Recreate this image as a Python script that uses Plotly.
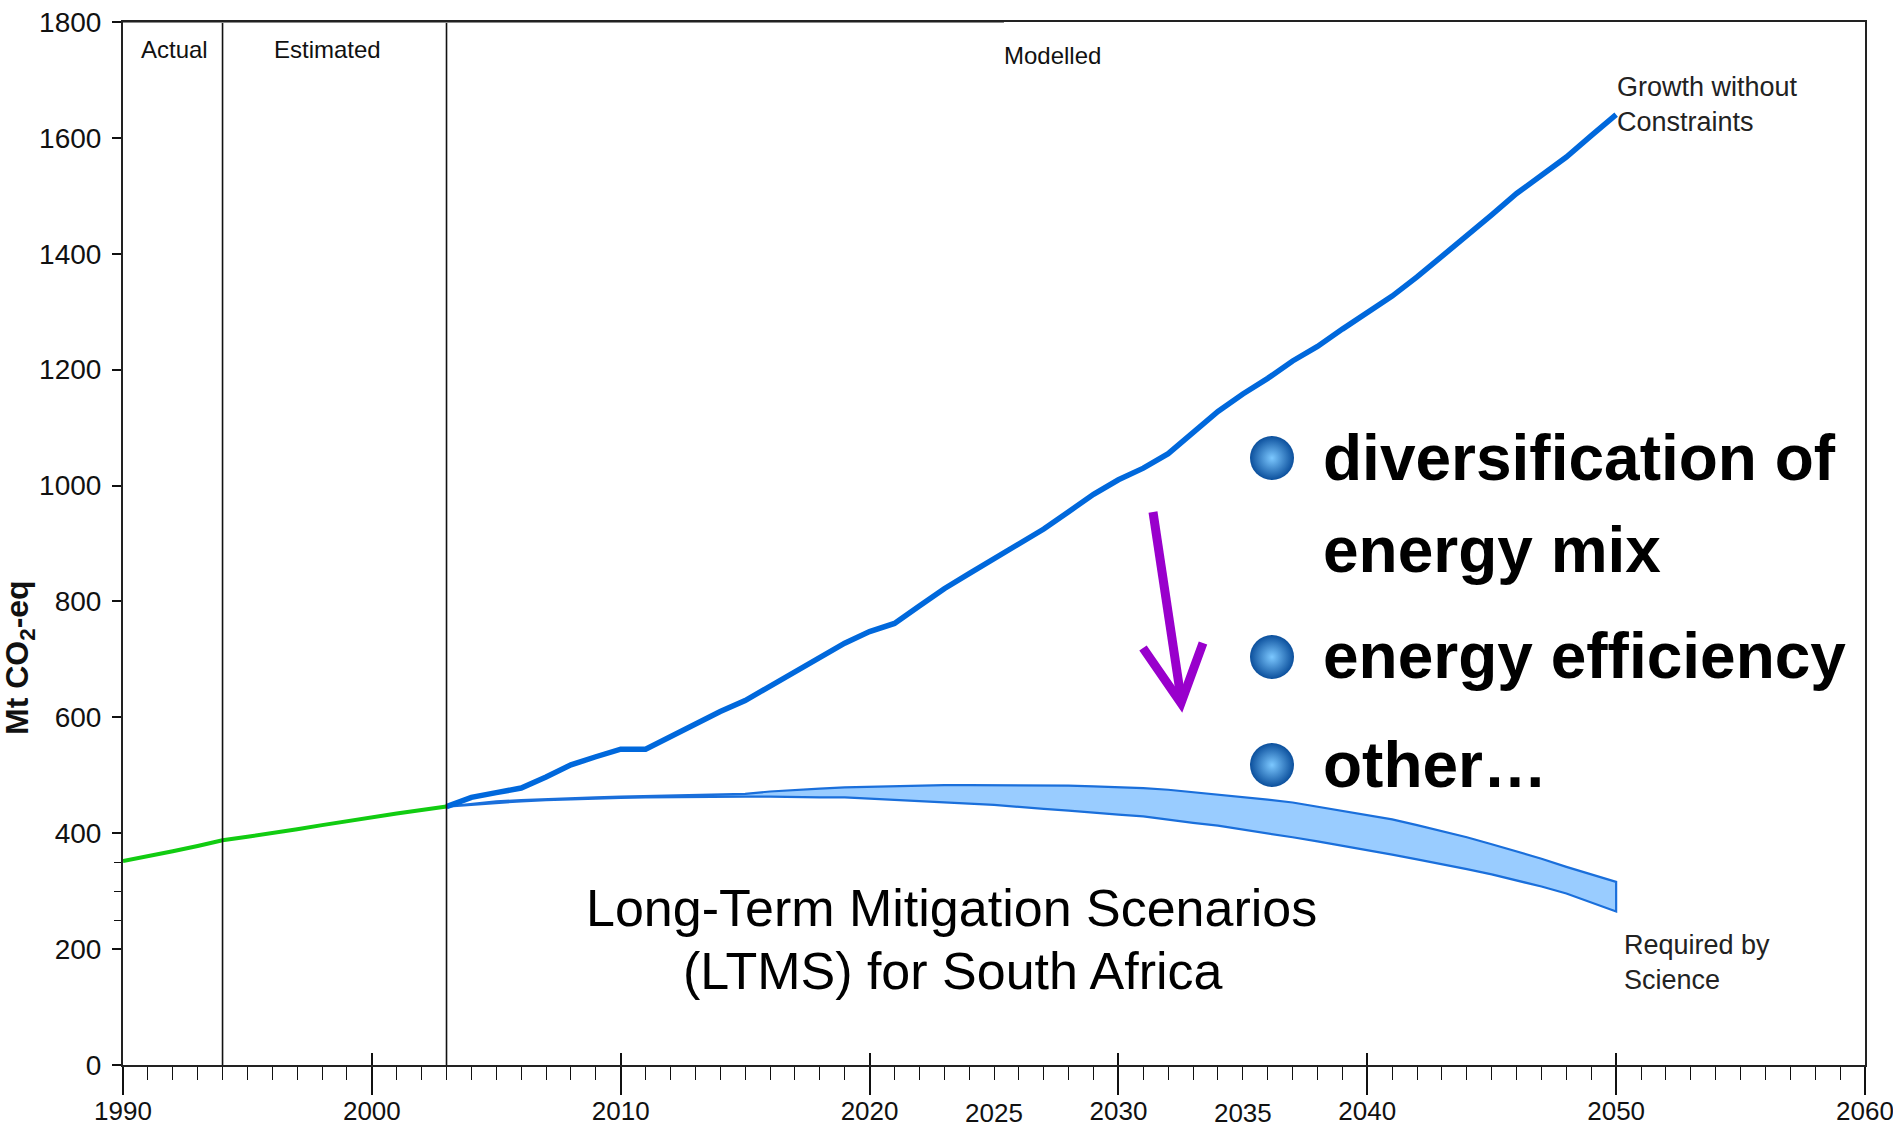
import plotly.graph_objects as go

# ---------------- data ----------------
actual_years = list(range(1990, 2004))
actual_values = [352, 360, 369, 378, 388, 394, 400, 407, 414, 421, 428, 434, 440, 446]

model_years = list(range(2003, 2051))
growth_values = [446, 462, 470, 478, 497, 518, 532, 545, 545, 567, 590, 610, 629, 654,
                 679, 703, 728, 748, 762, 792, 822, 848, 873, 898, 925, 955, 985, 1010,
                 1030, 1055, 1090, 1128, 1158, 1185, 1215, 1240, 1270, 1298, 1327, 1360,
                 1395, 1430, 1467, 1504, 1535, 1567, 1604, 1640]
science_upper = [446, 450, 455, 457, 459, 461, 462, 463, 464, 465, 466, 467, 468, 472,
                 475, 477, 479, 480, 482, 483, 483, 483, 483, 483, 482, 482, 481, 480,
                 478, 475, 471, 467, 463, 458, 453, 446, 439, 432, 424, 414, 404, 393,
                 381, 369, 356, 342, 329, 316]
science_lower = [446, 450, 452, 455, 457, 459, 460, 461, 462, 462, 463, 463, 463, 463,
                 463, 462, 462, 460, 458, 455, 453, 451, 449, 446, 442, 439, 436, 432,
                 429, 424, 418, 413, 406, 400, 393, 386, 378, 371, 363, 355, 347, 338,
                 329, 319, 308, 296, 281, 265]

period_bounds = [1994, 2003]
period_labels = ["Actual", "Estimated", "Modelled"]
period_label_x = [1992.05, 1998.2, 2027.35]

x_major = [1990, 2000, 2010, 2020, 2030, 2040, 2050, 2060]
x_half = [2025, 2035]
y_ticks = list(range(0, 1801, 200))
y_minor = [250, 300, 350]

bullet_texts = ["diversification of", "energy mix", "energy efficiency", "other\u2026"]

# ---------------- geometry helpers (figure pixels -> paper) ----------------
W, H = 1893, 1131
ML, MR, MT, MB = 123, 28, 22, 66
PW, PH = W - ML - MR, H - MT - MB


def pxx(x):
    return (x - ML) / PW


def pxy(y):
    return (H - MB - y) / PH


def d(x, y):
    return 1990 + (x - ML) / PW * 70, (H - MB - y) / PH * 1800


SMALL = "Liberation Sans, Arial, sans-serif"
ARIAL = "Liberation Sans, Arial, sans-serif"

fig = go.Figure()

# Required-by-science band (closed polygon)
fig.add_trace(go.Scatter(
    x=model_years + model_years[::-1],
    y=science_upper + science_lower[::-1],
    mode="lines", fill="toself", fillcolor="#99CCFF",
    line=dict(color="#1A6FDB", width=2.2),
    showlegend=False, hoverinfo="skip"))

# Growth without constraints
fig.add_trace(go.Scatter(
    x=model_years, y=growth_values, mode="lines",
    line=dict(color="#0068DC", width=5.5),
    showlegend=False))

# Actual / estimated
fig.add_trace(go.Scatter(
    x=actual_years, y=actual_values, mode="lines",
    line=dict(color="#11CC11", width=4),
    showlegend=False))

# dummy traces for overlay axes
fig.add_trace(go.Scatter(x=[None], y=[None], xaxis="x2", yaxis="y", showlegend=False, hoverinfo="skip"))
fig.add_trace(go.Scatter(x=[None], y=[None], xaxis="x3", yaxis="y", showlegend=False, hoverinfo="skip"))

# bullets (spheres)
bullet_px_y = [458, 657, 765]
bx = [d(1272, yy)[0] for yy in bullet_px_y]
by = [d(1272, yy)[1] for yy in bullet_px_y]
fig.add_trace(go.Scatter(
    x=bx, y=by, mode="markers",
    marker=dict(size=44, color="#0B4F9C",
                gradient=dict(type="radial", color="#7CC8FF"),
                line=dict(width=0)),
    showlegend=False, hoverinfo="skip", cliponaxis=False))

# ---------------- shapes ----------------
shapes = []
for b in period_bounds:
    shapes.append(dict(type="line", xref="x", yref="y", x0=b, x1=b, y0=0, y1=1800,
                       line=dict(color="#111111", width=1.6), layer="above"))
# lighter left part of the top frame
shapes.append(dict(type="line", xref="x", yref="y", x0=1990, x1=2025.4, y0=1800, y1=1800,
                   line=dict(color="#8A8A8A", width=2.2), layer="above"))

# purple arrow
sx0, sy0 = d(1153, 512)
tx, ty = d(1181, 703)
lx, ly = d(1143, 648)
rx, ry = d(1203, 643)
shapes.append(dict(type="line", xref="x", yref="y", x0=sx0, y0=sy0, x1=tx, y1=ty + 8,
                   line=dict(color="#9900CC", width=9)))
shapes.append(dict(type="path", xref="x", yref="y",
                   path=f"M {lx},{ly} L {tx},{ty} L {rx},{ry}",
                   line=dict(color="#9900CC", width=9)))

# ---------------- annotations ----------------
ann = []
for lab, lx_ in zip(period_labels, period_label_x):
    ann.append(dict(text=lab, x=lx_, y=1752 if lab != "Modelled" else 1743, xref="x", yref="y",
                    showarrow=False, xanchor="center", yanchor="middle",
                    font=dict(family=SMALL, size=24, color="#111111")))

ann.append(dict(text="Growth without<br>Constraints", x=pxx(1615), y=pxy(105), xref="paper", yref="paper",
                showarrow=False, xanchor="left", yanchor="middle", align="left",
                font=dict(family=SMALL, size=27, color="#222222")))
ann.append(dict(text="Required by<br>Science", x=pxx(1622), y=pxy(962), xref="paper", yref="paper",
                showarrow=False, xanchor="left", yanchor="middle", align="left",
                font=dict(family=SMALL, size=27, color="#222222")))

ann.append(dict(text="Long-Term Mitigation Scenarios", x=pxx(951), y=pxy(908), xref="paper", yref="paper",
                showarrow=False, xanchor="center", yanchor="middle",
                font=dict(family=ARIAL, size=52, color="#000000")))
ann.append(dict(text="(LTMS) for South Africa", x=pxx(953), y=pxy(971), xref="paper", yref="paper",
                showarrow=False, xanchor="center", yanchor="middle",
                font=dict(family=ARIAL, size=52, color="#000000")))

for t, yy in zip(bullet_texts, [458, 550, 656, 765]):
    ann.append(dict(text=f"<b>{t}</b>", x=pxx(1321), y=pxy(yy), xref="paper", yref="paper",
                    showarrow=False, xanchor="left", yanchor="middle",
                    font=dict(family=ARIAL, size=64, color="#000000")))

ann.append(dict(text="<b>Mt CO<sub>2</sub>-eq</b>", x=pxx(19), y=pxy(658), xref="paper", yref="paper",
                showarrow=False, xanchor="center", yanchor="middle", textangle=-90,
                font=dict(family=ARIAL, size=32, color="#111111")))

fig.update_layout(
    width=W, height=H,
    margin=dict(l=ML, r=MR, t=MT, b=MB, autoexpand=False),
    paper_bgcolor="white", plot_bgcolor="white",
    shapes=shapes, annotations=ann,
    xaxis=dict(range=[1990, 2060], showgrid=False, zeroline=False, automargin=False,
               showline=True, linecolor="#222222", linewidth=2, mirror=True,
               ticks="outside", tickvals=x_major, ticktext=[str(v) for v in x_major],
               ticklen=28, tickwidth=1.6, tickcolor="#111111",
               ticklabelstandoff=-6, ticklabeloverflow="allow",
               minor=dict(dtick=1, tick0=1990, ticks="outside", ticklen=13,
                          tickwidth=1.4, tickcolor="#111111"),
               tickfont=dict(family=SMALL, size=26, color="#111111")),
    xaxis2=dict(range=[1990, 2060], overlaying="x", anchor="y", side="bottom",
                showgrid=False, zeroline=False, showline=False, automargin=False,
                ticks="outside", tickvals=x_half, ticktext=[str(v) for v in x_half],
                ticklen=28, tickcolor="rgba(0,0,0,0)", ticklabelstandoff=-3,
                ticklabeloverflow="allow",
                tickfont=dict(family=SMALL, size=26, color="#111111")),
    xaxis3=dict(range=[1990, 2060], overlaying="x", anchor="y", side="bottom",
                showgrid=False, zeroline=False, showline=False, automargin=False,
                ticks="inside", tickvals=x_major[1:-1], ticklen=12, tickwidth=1.6,
                tickcolor="#111111", showticklabels=False),
    yaxis=dict(range=[0, 1800], showgrid=False, zeroline=False, automargin=False,
               showline=True, linecolor="#222222", linewidth=2, mirror=True,
               ticks="outside", tickvals=y_ticks, ticklen=9, tickwidth=1.6,
               tickcolor="#111111", ticklabelstandoff=5, ticklabeloverflow="allow",
               minor=dict(tickvals=y_minor, ticks="outside", ticklen=7,
                          tickwidth=1.4, tickcolor="#111111"),
               tickfont=dict(family=SMALL, size=28, color="#111111")),
)

fig.write_html("out.html", config={"displayModeBar": False},
               post_script="document.body.style.margin='0px';")
